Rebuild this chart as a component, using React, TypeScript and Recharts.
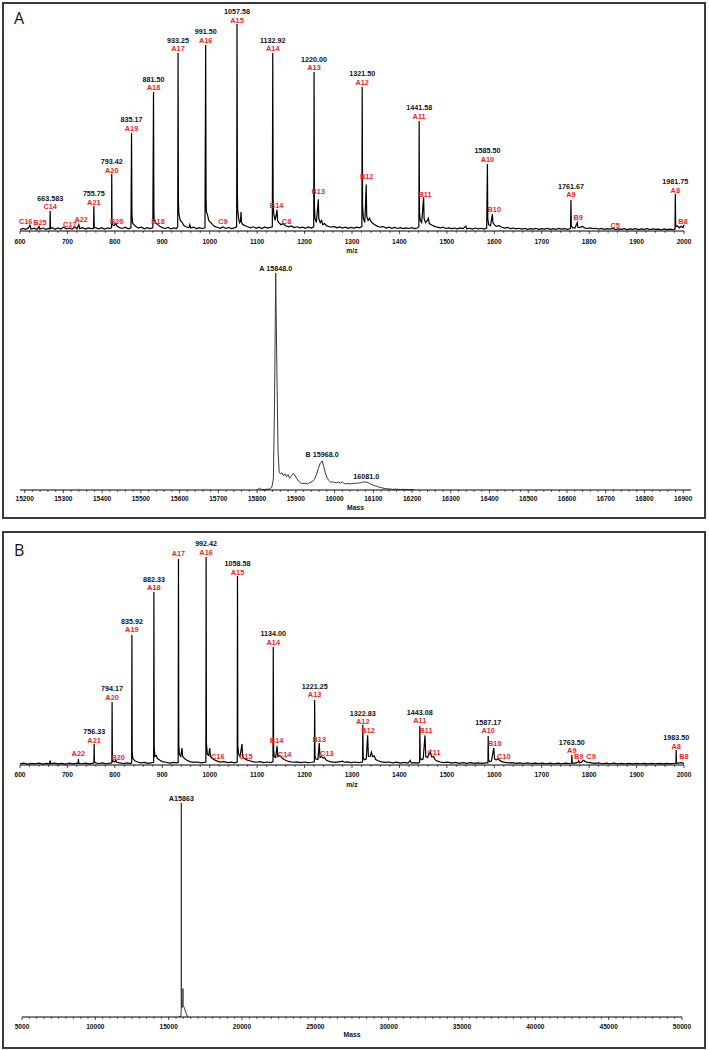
import React from 'react';
import { ComposedChart, Line, Scatter, XAxis, YAxis } from 'recharts';

type Pt = [number, number];
type Lbl = { x: number; y: number; num?: string; ion?: string };

const FONT = "'Liberation Sans', Arial, Helvetica, sans-serif";
const RED = '#f01e1e';

// ---------- Panel A : ESI spectrum (m/z) ----------
const specA1: Pt[] = [
  [600,0.6],[606,1.2],[612,0.8],[618,1.5],[621,2.8],[623,0.9],[630,1.3],[636,0.7],[640,2.2],[642,0.9],[648,1.4],[655,0.8],[660,1.2],[663,1.0],[663.58,9.5],[664.3,1.2],[668,1.6],[674,0.8],[680,1.5],[686,0.9],[692,1.8],[698,1.0],[704,1.4],[710,0.9],[716,2.0],[720,1.0],[724,3.0],[726,1.1],[732,1.6],[738,0.9],[744,1.5],[750,1.1],[755,1.2],[755.75,11.8],[756.5,1.8],[760,1.5],[766,1.0],[772,1.6],[778,0.9],[784,1.4],[790,1.2],[793,1.5],[793.42,27],[794,5],[795,3],[798,2.5],[802,3.5],[805,2.2],[810,1.6],[816,1.2],[822,1.8],[828,1.0],[834,1.5],[835.17,46.4],[836,8],[837,4],[840,3],[845,2],[850,1.4],[856,1.8],[862,1.0],[868,1.6],[874,1.1],[880,1.5],[881.5,65.9],[882.3,10],[883,5],[886,4],[890,3],[895,2.2],[900,1.6],[906,1.2],[912,1.7],[918,1.0],[924,1.5],[930,1.2],[932.5,2],[933.25,84.4],[934,14],[935,8],[938,5],[942,4],[946,2.5],[950,2],[956,1.5],[958,3],[960,1.4],[966,1.8],[972,1.1],[978,1.6],[984,1.2],[990,1.5],[991.5,88.2],[992.3,16],[993,9],[995,8],[998,5],[1002,4],[1006,3],[1010,2.2],[1016,1.8],[1022,1.3],[1028,1.9],[1034,1.2],[1040,1.7],[1046,1.1],[1052,1.5],[1056.8,2],[1057.58,98.1],[1058.3,18],[1059,10],[1061,6],[1063,4],[1065,5],[1066,9],[1067,4],[1070,3],[1075,2.5],[1080,2],[1086,1.5],[1092,2],[1098,1.3],[1104,1.8],[1110,1.2],[1116,1.9],[1122,1.4],[1128,1.7],[1132,2],[1132.92,84.4],[1133.7,15],[1135,8],[1138,5],[1142,10],[1143,5],[1146,4],[1150,3],[1155,3.5],[1160,2.5],[1166,2],[1172,2.4],[1178,1.6],[1184,2.0],[1190,1.5],[1196,1.8],[1202,1.3],[1208,1.9],[1214,1.4],[1219.3,2],[1220,75.4],[1220.8,12],[1222,6],[1225,4],[1229,15],[1230,6],[1233,4],[1236,5],[1238,3],[1242,3.5],[1246,2.6],[1250,2.2],[1256,1.8],[1262,2.2],[1268,1.5],[1274,1.9],[1280,1.4],[1286,1.8],[1292,1.3],[1298,1.7],[1304,1.4],[1310,1.8],[1316,1.5],[1320.8,2.2],[1321.5,68.2],[1322.3,12],[1324,6],[1327,4],[1330,22],[1331,7],[1334,5],[1337,6],[1340,4.5],[1344,3.5],[1348,3],[1354,2.2],[1360,1.8],[1366,2.1],[1372,1.4],[1378,1.8],[1384,1.3],[1390,1.7],[1396,1.2],[1402,1.6],[1408,1.1],[1414,1.5],[1420,1.2],[1426,1.6],[1432,1.1],[1438,1.4],[1441,2],[1441.58,52.1],[1442.3,9],[1444,5],[1447,4],[1451,16],[1452,6],[1455,4],[1459,5],[1461,6],[1463,3.5],[1468,2.8],[1474,2.2],[1480,1.8],[1486,1.5],[1492,1.8],[1498,1.2],[1504,1.5],[1510,1.1],[1516,1.4],[1522,1.0],[1528,1.5],[1534,1.1],[1540,2.2],[1542,1.0],[1548,1.3],[1554,0.9],[1560,1.4],[1566,1.0],[1572,1.3],[1578,0.9],[1584,1.4],[1585.5,31.8],[1586.3,6],[1588,3],[1592,2.5],[1596,8],[1597,4],[1600,3],[1604,2.2],[1610,2.5],[1616,1.8],[1622,1.4],[1628,1.7],[1634,1.1],[1640,1.4],[1646,1.0],[1652,1.3],[1658,0.9],[1664,1.2],[1670,0.8],[1676,1.1],[1682,0.9],[1688,1.2],[1694,0.8],[1700,1.1],[1706,0.9],[1712,1.2],[1718,0.8],[1724,1.1],[1730,0.8],[1736,1.2],[1742,0.9],[1748,1.1],[1754,0.8],[1760.8,1.2],[1761.67,14.7],[1762.4,2.5],[1765,1.6],[1770,1.4],[1775,4],[1776,1.8],[1780,1.6],[1786,2.2],[1790,1.5],[1796,1.2],[1802,1.5],[1808,1.1],[1814,1.3],[1820,0.9],[1826,1.2],[1832,0.8],[1838,1.1],[1844,0.9],[1850,1.2],[1856,0.7],[1862,1.0],[1868,0.8],[1874,1.1],[1880,0.7],[1886,1.0],[1892,0.8],[1898,1.1],[1904,0.7],[1910,1.0],[1916,0.8],[1922,1.1],[1928,0.7],[1934,1.0],[1940,0.8],[1946,0.9],[1952,0.6],[1958,1.0],[1964,0.7],[1970,0.9],[1976,0.7],[1981,0.9],[1981.75,17.5],[1982.5,2],[1986,2.5],[1990,1.5],[1994,2.2],[1998,1.6],[2000,3]
];

const peakLabelsA1: Lbl[] = [
  { x: 663.583, y: 11.4, num: '663.583', ion: 'C14' },
  { x: 755.75, y: 13.7, num: '755.75', ion: 'A21' },
  { x: 793.42, y: 28.9, num: '793.42', ion: 'A20' },
  { x: 835.17, y: 48.8, num: '835.17', ion: 'A19' },
  { x: 881.5, y: 67.8, num: '881.50', ion: 'A18' },
  { x: 933.25, y: 86.3, num: '933.25', ion: 'A17' },
  { x: 991.5, y: 90.5, num: '991.50', ion: 'A16' },
  { x: 1057.58, y: 100, num: '1057.58', ion: 'A15' },
  { x: 1132.92, y: 86.3, num: '1132.92', ion: 'A14' },
  { x: 1220, y: 77.3, num: '1220.00', ion: 'A13' },
  { x: 1321.5, y: 70.6, num: '1321.50', ion: 'A12' },
  { x: 1441.58, y: 54.5, num: '1441.58', ion: 'A11' },
  { x: 1585.5, y: 34.1, num: '1585.50', ion: 'A10' },
  { x: 1761.67, y: 17.1, num: '1761.67', ion: 'A9' },
  { x: 1981.75, y: 19.4, num: '1981.75', ion: 'A8' },
];

const fragLabelsA1: Lbl[] = [
  { x: 612, y: 4.3, ion: 'C16' },
  { x: 642, y: 3.8, ion: 'B25' },
  { x: 705, y: 2.9, ion: 'C17' },
  { x: 729, y: 5.3, ion: 'A22' },
  { x: 804, y: 4.7, ion: 'B20' },
  { x: 891, y: 4.7, ion: 'B18' },
  { x: 1028, y: 4.7, ion: 'C9' },
  { x: 1141, y: 12.3, ion: 'B14' },
  { x: 1162, y: 4.7, ion: 'C8' },
  { x: 1229, y: 18.5, ion: 'B13' },
  { x: 1331, y: 25.6, ion: 'B12' },
  { x: 1454, y: 17.5, ion: 'B11' },
  { x: 1600, y: 10, ion: 'B10' },
  { x: 1777, y: 6.6, ion: 'B9' },
  { x: 1855, y: 2.8, ion: 'C5' },
  { x: 1998, y: 4.7, ion: 'B8' },
];

// ---------- Panel A : deconvoluted mass ----------
const specA2: Pt[] = [
  [15800,0],[15806,0.8],[15812,0.2],[15822,0.3],[15832,0.4],[15838,1.2],[15842,5],[15845,38],[15848,97.7],[15851,55],[15854,18],[15857,8],[15860,7.3],[15864,7.8],[15868,6.5],[15872,7.3],[15876,6],[15880,7],[15884,5.3],[15888,6.2],[15893,7.4],[15897,6.8],[15902,5.3],[15907,4],[15912,3.2],[15918,2.9],[15924,3.1],[15930,2.7],[15936,3.4],[15942,3.7],[15948,4.8],[15953,6.8],[15958,9.6],[15963,12],[15968,13.1],[15972,10.6],[15976,7.7],[15980,5.8],[15985,4.3],[15990,3.5],[15995,3.7],[16000,3.4],[16005,3.3],[16010,3.5],[16015,3.1],[16020,3.7],[16025,2.9],[16030,2.8],[16035,3],[16040,2.7],[16045,2.9],[16050,3.1],[16055,2.9],[16060,3.2],[16065,3.1],[16070,3.4],[16075,3.6],[16081,3.6],[16087,3.3],[16093,2.7],[16100,2.1],[16108,1.7],[16115,1.3],[16122,1],[16130,0.6],[16140,0.5],[16150,0.3],[16160,0.4],[16170,0.2],[16180,0.3],[16190,0.1],[16200,0.2],[16206,0]
];
const massLabelsA2: Lbl[] = [
  { x: 15848, y: 100, num: 'A 15848.0' },
  { x: 15968, y: 15.8, num: 'B 15968.0' },
  { x: 16082, y: 5.9, num: '16081.0' },
];

// ---------- Panel B : ESI spectrum (m/z) ----------
const specB1: Pt[] = [
  [600,0.5],[608,0.9],[616,0.4],[624,0.8],[632,0.5],[640,0.9],[648,0.4],[656,0.8],[662,0.6],[663.5,2],[665,0.6],[672,0.9],[680,0.5],[688,0.8],[696,0.4],[704,0.9],[712,0.5],[718,0.8],[722.5,0.8],[723.2,2.8],[724,0.8],[730,0.6],[738,0.9],[746,0.5],[752,0.8],[755.8,0.9],[756.33,9.9],[757,1.4],[760,1],[766,0.7],[774,1],[782,0.6],[790,0.9],[793.7,1],[794.17,29.6],[794.8,3],[796,1.8],[800,1.5],[802,2.2],[804,1.3],[810,1],[818,0.7],[826,1],[832,0.7],[835.4,1],[835.92,61],[836.6,6],[838,3],[842,2],[848,1.4],[854,1],[862,1.2],[870,0.8],[878,1.1],[881.8,1.2],[882.33,81.2],[883,8],[884.5,4],[887,4.5],[890,3],[895,2.2],[900,1.6],[908,1.3],[916,0.9],[924,1.2],[930,1],[933.5,1.2],[934.1,96.7],[934.8,10],[936,5],[939,4],[941.5,8],[943,4],[947,3],[952,2.2],[958,1.6],[966,1.2],[974,1.4],[982,1],[988,1.2],[991.9,1.4],[992.42,97.7],[993.1,10],[995,5],[998,4.5],[1000,8],[1001.5,4],[1005,3.2],[1010,2.4],[1016,1.8],[1022,1.4],[1030,1.6],[1038,1.1],[1046,1.3],[1052,1],[1058,1.4],[1058.58,88.7],[1059.3,9],[1061,5],[1064,4],[1068,9.9],[1069.5,4],[1073,3],[1078,2.4],[1084,2],[1090,1.6],[1098,1.3],[1106,1.6],[1114,1.1],[1122,1.4],[1128,1.1],[1133.4,1.5],[1134,55.4],[1134.7,7],[1136,4],[1139,3.5],[1142,8.9],[1143.5,4],[1147,4.5],[1150,4],[1153,3.2],[1157,2.6],[1162,2],[1168,1.6],[1176,1.3],[1184,1.5],[1192,1.1],[1200,1.4],[1208,1.1],[1215,1.3],[1220.6,1.5],[1221.25,30.5],[1222,4],[1224,2.8],[1228,2.6],[1231,10.3],[1232.5,3.5],[1236,4],[1239,3.2],[1242,3.6],[1245,2.4],[1250,1.8],[1256,1.5],[1264,1.2],[1272,1.5],[1280,1.8],[1284,1.3],[1290,1.5],[1298,1.1],[1306,1.4],[1314,1.1],[1322.2,1.4],[1322.83,18.8],[1323.6,3.5],[1326,2.5],[1330,2.8],[1333,14],[1334.5,4],[1338,4],[1341,6],[1343,4],[1347,4.2],[1350,2.6],[1355,2],[1362,1.5],[1370,1.2],[1378,1.4],[1386,1],[1394,1.3],[1402,0.9],[1410,1.2],[1418,0.9],[1423,2.2],[1425,0.9],[1432,1.1],[1438,0.9],[1442.5,1.2],[1443.08,18.3],[1443.8,3.5],[1446,2.5],[1450,2.8],[1454,14],[1455.5,4],[1459,3.5],[1462,5],[1465,6],[1468,3.8],[1472,4],[1475,2.5],[1480,1.8],[1486,1.4],[1494,1.1],[1502,1.3],[1510,0.9],[1518,1.2],[1526,0.8],[1534,1.1],[1542,0.8],[1550,1.1],[1558,0.8],[1566,1],[1574,0.8],[1582,1],[1586.6,1],[1587.17,13.6],[1587.9,2.5],[1590,1.6],[1594,1.8],[1599,8],[1600.5,3],[1604,2.4],[1608,3],[1611,2.2],[1616,1.6],[1622,1.2],[1630,1],[1638,1.1],[1646,0.8],[1654,1],[1662,0.7],[1670,1],[1678,0.7],[1686,0.9],[1694,0.7],[1702,0.9],[1710,0.6],[1718,0.9],[1726,0.6],[1734,0.9],[1742,0.6],[1750,0.9],[1758,0.7],[1763,0.8],[1763.5,4.7],[1764.2,1],[1770,0.9],[1776,1.2],[1778,2],[1780,1],[1784,1.3],[1788,2.2],[1792,1.6],[1797,1.2],[1804,1],[1812,0.8],[1820,1],[1828,0.6],[1836,0.9],[1844,0.6],[1852,0.9],[1860,0.6],[1868,0.8],[1876,0.6],[1884,0.8],[1892,0.5],[1900,0.8],[1908,0.6],[1916,0.8],[1924,0.5],[1932,0.8],[1940,0.6],[1948,0.8],[1956,0.5],[1964,0.8],[1972,0.6],[1978,0.7],[1983,0.8],[1983.5,7],[1984.2,1],[1988,0.9],[1994,1.1],[2000,0.8]
];

const peakLabelsB1: Lbl[] = [
  { x: 756.33, y: 11.7, num: '756.33', ion: 'A21' },
  { x: 794.17, y: 31.9, num: '794.17', ion: 'A20' },
  { x: 835.92, y: 63.4, num: '835.92', ion: 'A19' },
  { x: 882.33, y: 83.1, num: '882.33', ion: 'A18' },
  { x: 934.1, y: 99.1, ion: 'A17' },
  { x: 992.42, y: 100, num: '992.42', ion: 'A16' },
  { x: 1058.58, y: 90.6, num: '1058.58', ion: 'A15' },
  { x: 1134, y: 57.7, num: '1134.00', ion: 'A14' },
  { x: 1221.25, y: 32.9, num: '1221.25', ion: 'A13' },
  { x: 1322.83, y: 20.2, num: '1322.83', ion: 'A12' },
  { x: 1443.08, y: 20.7, num: '1443.08', ion: 'A11' },
  { x: 1587.17, y: 16.0, num: '1587.17', ion: 'A10' },
  { x: 1763.5, y: 6.6, num: '1763.50', ion: 'A9' },
  { x: 1983.5, y: 8.9, num: '1983.50', ion: 'A8' },
];

const fragLabelsB1: Lbl[] = [
  { x: 723, y: 5.2, ion: 'A22' },
  { x: 807, y: 3.3, ion: 'B20' },
  { x: 1017, y: 3.8, ion: 'C16' },
  { x: 1076, y: 4.2, ion: 'C15' },
  { x: 1141, y: 11.3, ion: 'B14' },
  { x: 1158, y: 4.7, ion: 'C14' },
  { x: 1231, y: 12.2, ion: 'B13' },
  { x: 1247, y: 5.2, ion: 'C13' },
  { x: 1334, y: 16, ion: 'B12' },
  { x: 1456, y: 16.4, ion: 'B11' },
  { x: 1473, y: 6.1, ion: 'C11' },
  { x: 1601, y: 9.9, ion: 'B10' },
  { x: 1620, y: 3.8, ion: 'C10' },
  { x: 1778, y: 3.8, ion: 'B9' },
  { x: 1804, y: 3.8, ion: 'C9' },
  { x: 2000, y: 3.8, ion: 'B8' },
];

// ---------- Panel B : deconvoluted mass ----------
const specB2: Pt[] = [
  [15700,0],[15840,0.5],[15856,4],[15863,97.7],[15870,5],[15900,4],[15940,5],[15965,8],[15975,13],[15990,5],[16050,4.5],[16100,3.5],[16200,1.5],[16300,0]
];
const massLabelsB2: Lbl[] = [{ x: 15863, y: 99.8, num: 'A15863' }];

// ---------- tick labels ----------
const majorsMz = [600, 700, 800, 900, 1000, 1100, 1200, 1300, 1400, 1500, 1600, 1700, 1800, 1900, 2000];
const majorsMassA = [15200, 15300, 15400, 15500, 15600, 15700, 15800, 15900, 16000, 16100, 16200, 16300, 16400, 16500, 16600, 16700, 16800, 16900];
const majorsMassB = [5000, 10000, 15000, 20000, 25000, 30000, 35000, 40000, 45000, 50000];

const minorTicks = (from: number, to: number, step: number) => {
  const out: number[] = [];
  for (let v = from; v <= to + 1e-9; v += step) out.push(Math.round(v * 1000) / 1000);
  return out;
};

const toXY = (pts: Pt[]) => pts.map(([x, y]) => ({ x, y }));

const makeTick = (majors: number[], dy: number) => (p: any) => {
  const { x, y, payload } = p;
  const v = payload.value;
  const major = majors.includes(v);
  return (
    <g>
      <line x1={x} x2={x} y1={y} y2={y + (major ? 3 : 1.8)} stroke="#000" strokeWidth={0.7} />
      {major && (
        <text x={x} y={y + dy} textAnchor="middle" dominantBaseline="central" fontFamily={FONT} fontWeight="bold" fontSize={6.6} fill="#111">
          {v}
        </text>
      )}
    </g>
  );
};

const AxisTitle = (p: any) => {
  const vb = p.viewBox || { x: 0, y: 0, width: 0 };
  return (
    <text x={vb.x + vb.width / 2} y={vb.y + p.dy} textAnchor="middle" dominantBaseline="central" fontFamily={FONT} fontWeight="bold" fontSize={6.8} fill="#111">
      {p.text}
    </text>
  );
};

const LabelShape = (p: any) => {
  const { cx, cy, payload } = p;
  if (cx == null || cy == null) return <g />;
  return (
    <g>
      {payload.ion && (
        <text x={cx} y={cy} textAnchor="middle" dominantBaseline="central" fontFamily={FONT} fontWeight="bold" fontSize={7.4} fill={RED}>
          {payload.ion}
        </text>
      )}
      {payload.num && (
        <text x={cx} y={payload.ion ? cy - 8.6 : cy} textAnchor="middle" dominantBaseline="central" fontFamily={FONT} fontWeight="bold" fontSize={7.2} fill="#111">
          {payload.num}
        </text>
      )}
    </g>
  );
};

type SpecProps = {
  top: number; height: number; mTop: number; mLeft: number; mRight: number; axisH: number;
  domain: [number, number]; ticks: number[]; majors: number[]; tickDy: number;
  title: string; titleDy: number; spec: Pt[]; color: string; width: number; labels: Lbl[][];
};

const Spectrum = (s: SpecProps) => (
  <div style={{ position: 'absolute', left: 0, top: s.top, width: 709, height: s.height }}>
    <ComposedChart width={709} height={s.height} margin={{ top: s.mTop, left: s.mLeft, right: s.mRight, bottom: 0 }}>
      <XAxis
        type="number" dataKey="x" domain={s.domain} ticks={s.ticks} interval={0}
        height={s.axisH} tickLine={false} tickSize={0} tickMargin={0}
        axisLine={{ stroke: '#000', strokeWidth: 1 }}
        tick={makeTick(s.majors, s.tickDy)}
        label={<AxisTitle text={s.title} dy={s.titleDy} />}
      />
      <YAxis type="number" dataKey="y" domain={[0, 100]} hide />
      <Line data={toXY(s.spec)} dataKey="y" type="linear" stroke={s.color} strokeWidth={s.width} dot={false} activeDot={false} isAnimationActive={false} />
      {s.labels.map((l, i) => (
        <Scatter key={i} data={l} dataKey="y" shape={(p: any) => <LabelShape {...p} />} isAnimationActive={false} />
      ))}
    </ComposedChart>
  </div>
);

const panelStyle = (top: number, height: number): React.CSSProperties => ({
  position: 'absolute', left: 2, top, width: 704, height, border: '2px solid #3a3a3a', boxSizing: 'border-box',
});

const letterStyle = (top: number): React.CSSProperties => ({
  position: 'absolute', left: 14, top, fontFamily: "'Open Sans', sans-serif", fontSize: 16, lineHeight: '16px', color: '#111',
});

export default function App() {
  return (
    <div style={{ position: 'absolute', left: 0, top: 0, width: 709, height: 1050, background: '#fff' }}>
      <div style={panelStyle(2, 517)} />
      <div style={panelStyle(531, 518)} />
      <div style={letterStyle(10)}>A</div>
      <div style={letterStyle(542)}>B</div>

      <Spectrum top={0} height={260} mTop={20} mLeft={20} mRight={25} axisH={29}
        domain={[600, 2000]} ticks={minorTicks(600, 2000, 20)} majors={majorsMz} tickDy={10}
        title="m/z" titleDy={19} spec={specA1} color="#000" width={1.2} labels={[peakLabelsA1, fragLabelsA1]} />

      <Spectrum top={260} height={260} mTop={8} mLeft={20} mRight={18} axisH={30}
        domain={[15188, 16920]} ticks={minorTicks(15200, 16900, 20)} majors={majorsMassA} tickDy={8}
        title="Mass" titleDy={17} spec={specA2} color="#3a3a3a" width={1} labels={[massLabelsA2]} />

      <Spectrum top={531} height={260} mTop={21} mLeft={20} mRight={25} axisH={26}
        domain={[600, 2000]} ticks={minorTicks(600, 2000, 20)} majors={majorsMz} tickDy={9}
        title="m/z" titleDy={19} spec={specB1} color="#000" width={1.2} labels={[peakLabelsB1, fragLabelsB1]} />

      <Spectrum top={791} height={259} mTop={7} mLeft={22} mRight={27} axisH={33}
        domain={[5000, 50000]} ticks={minorTicks(5000, 50000, 500)} majors={majorsMassB} tickDy={9}
        title="Mass" titleDy={17} spec={specB2} color="#3a3a3a" width={1} labels={[massLabelsB2]} />
    </div>
  );
}
